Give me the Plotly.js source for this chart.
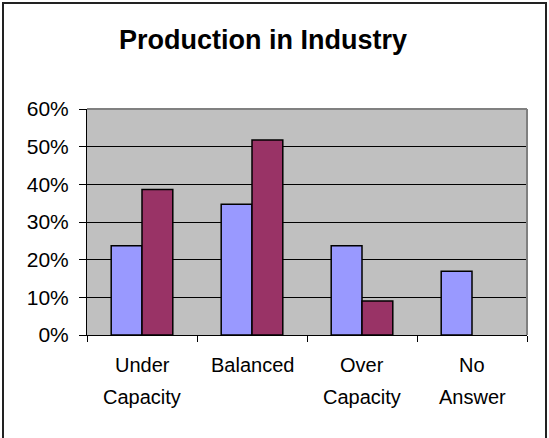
<!DOCTYPE html>
<html>
<head>
<meta charset="utf-8">
<script src="https://cdn.plot.ly/plotly-3.0.1.min.js"></script>
<style>
html,body{margin:0;padding:0;background:#fff;}
#wrap{position:relative;width:549px;height:438px;overflow:hidden;}
#chart{position:absolute;left:0;top:0;width:549px;height:438px;}
#frame{position:absolute;left:2px;top:2px;width:541px;height:450px;border:2px solid #222;pointer-events:none;}
</style>
</head>
<body>
<div id="wrap"><div id="chart"></div><div id="frame"></div></div>
<script>
var titleText = "Production in Industry";
var categories = ["Under Capacity", "Balanced", "Over Capacity", "No Answer"];
var labelLines = [["Under", "Capacity"], ["Balanced"], ["Over", "Capacity"], ["No", "Answer"]];
var seriesA = [0.237, 0.347, 0.237, 0.169];
var seriesB = [0.386, 0.518, 0.09, null];
var yTickVals = [0, 0.1, 0.2, 0.3, 0.4, 0.5, 0.6];
var yTickText = ["0%", "10%", "20%", "30%", "40%", "50%", "60%"];

var FONT = "Arial, 'Liberation Sans', sans-serif";
var plotTop = 109, plotBottom = 335, plotH = plotBottom - plotTop;

var traces = [
  {type: "bar", x: categories, y: seriesA, name: "A",
   marker: {color: "#9999FF", line: {color: "#000", width: 1.5}}},
  {type: "bar", x: categories, y: seriesB, name: "B",
   marker: {color: "#993366", line: {color: "#000", width: 1.5}}}
];

var annotations = [];
labelLines.forEach(function(lines, i){
  lines.forEach(function(t, j){
    var cy = 365 + j * 32;
    annotations.push({
      x: categories[i], xref: "x",
      y: (plotBottom - cy) / plotH, yref: "paper",
      text: t, showarrow: false, xanchor: "center", yanchor: "middle",
      font: {family: FONT, size: 20, color: "#000"}
    });
  });
});

var layout = {
  width: 549, height: 438,
  margin: {l: 87, r: 22, t: plotTop, b: 438 - plotBottom, pad: 0},
  paper_bgcolor: "#fff",
  plot_bgcolor: "#C0C0C0",
  showlegend: false,
  barmode: "group",
  bargap: 0.44,
  bargroupgap: 0,
  title: {text: "<b>" + titleText + "</b>", x: 263/549, xref: "container", xanchor: "center",
          y: 1 - 40/438, yref: "container", yanchor: "middle",
          font: {family: FONT, size: 27, color: "#000"}},
  xaxis: {
    type: "category", range: [-0.5, 3.5],
    showticklabels: false, tickson: "boundaries", ticks: "outside", ticklen: 6, tickcolor: "#000", tickwidth: 1,
    showline: true, linecolor: "#000", linewidth: 1, showgrid: false, zeroline: false, fixedrange: true
  },
  yaxis: {
    range: [0, 0.6], tickvals: yTickVals, ticktext: yTickText,
    ticks: "outside", ticklen: 7, tickcolor: "#000", tickwidth: 1,
    ticklabelstandoff: 6,
    showline: true, linecolor: "#000", linewidth: 1,
    showgrid: true, gridcolor: "#000", gridwidth: 1, zeroline: false,
    tickfont: {family: FONT, size: 21, color: "#000"}, fixedrange: true
  },
  annotations: annotations,
  shapes: [
    {type: "line", xref: "paper", yref: "paper", x0: 0, x1: 1, y0: 1, y1: 1, line: {color: "#808080", width: 2}, layer: "above"},
    {type: "line", xref: "paper", yref: "paper", x0: 1, x1: 1, y0: 0, y1: 1, line: {color: "#808080", width: 2}, layer: "above"}
  ]
};

Plotly.newPlot("chart", traces, layout, {displayModeBar: false, staticPlot: true});
</script>
</body>
</html>
